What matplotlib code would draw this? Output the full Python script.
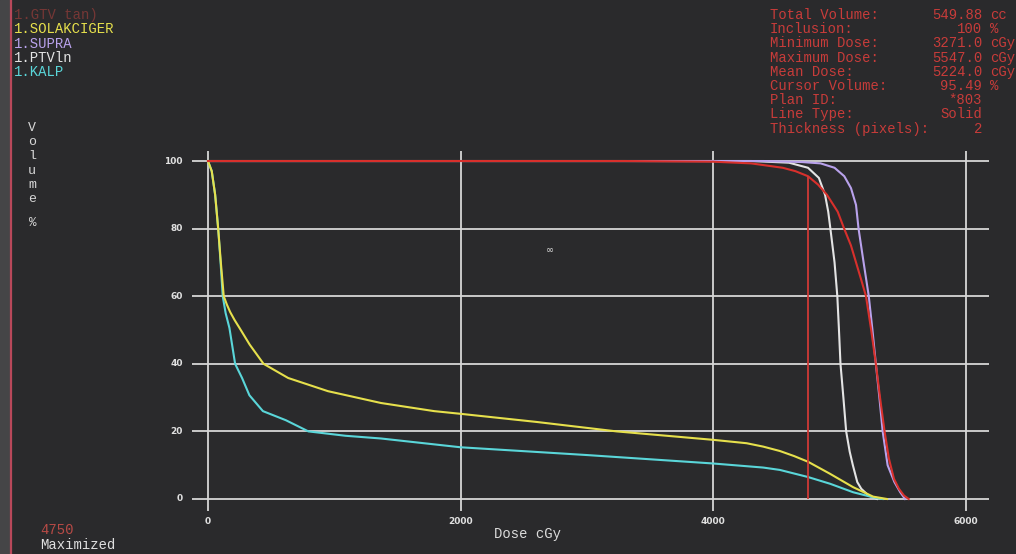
import matplotlib
matplotlib.use('Agg')
import matplotlib.pyplot as plt
from matplotlib.lines import Line2D
from matplotlib.patches import Rectangle

gtv_dose = [0, 3300, 4000, 4300, 4550, 4650, 4750, 4830, 4900, 4985, 5036, 5090, 5130,
            5170, 5209, 5250, 5287, 5320, 5356, 5390, 5430, 5470, 5510, 5547]
gtv_vol = [100, 100, 99.8, 99.3, 98, 97, 95.5, 93, 90, 85, 80, 75, 70,
           65, 60, 50, 40, 30, 20, 12, 6, 3, 1, 0]

supra_dose = [0, 4400, 4700, 4850, 4960, 5037, 5090, 5130, 5150, 5190, 5231, 5260,
              5287, 5315, 5341, 5380, 5434, 5480, 5518]
supra_vol = [100, 100, 99.7, 99.3, 98, 95.5, 92, 87, 80, 70, 60, 50,
             40, 30, 20, 10, 5, 2, 0]

ptv_dose = [0, 4300, 4600, 4750, 4836, 4885, 4910, 4927, 4960, 4982, 4995, 5007,
            5030, 5052, 5080, 5105, 5140, 5172, 5230, 5296]
ptv_vol = [100, 100, 99.5, 98, 95, 90, 85, 80, 70, 60, 50, 40,
           30, 20, 14, 10, 5, 3, 1, 0]

lung_dose = [0, 30, 57, 81, 102, 125, 150, 176, 210, 250, 330, 440, 635, 950, 1370,
             1790, 2000, 2600, 3235, 4000, 4264, 4395, 4527, 4640, 4751, 4922, 5107,
             5265, 5375]
lung_vol = [100, 97, 90, 80, 70, 60, 57.5, 55.3, 53, 50.6, 45.7, 40, 35.8, 31.9, 28.4,
            26, 25.2, 22.8, 20, 17.5, 16.5, 15.5, 14.2, 12.7, 11, 7.5, 3.5,
            0.7, 0]

heart_dose = [0, 30, 57, 81, 100, 117, 140, 170, 215, 270, 328, 435, 617, 795, 1090,
              1370, 2000, 3000, 4000, 4395, 4527, 4750, 4925, 5107, 5265, 5340]
heart_vol = [100, 97, 90, 80, 70, 60, 55, 50.6, 40, 35.8, 30.7, 26, 23.3, 20, 18.7,
             17.9, 15.3, 13, 10.5, 9.3, 8.6, 6.5, 4.5, 2, 0.5, 0]

cursor_dose = 4750
cursor_vol = 95.49

x_ticks = [0, 2000, 4000, 6000]
y_ticks = [0, 20, 40, 60, 80, 100]

legend_names = ['1.GTV tan)', '1.SOLAKCIGER', '1.SUPRA', '1.PTVln', '1.KALP']
legend_colors = ['#a8403c', '#e6e04c', '#b9a2ec', '#e4e4e4', '#5ad6d9']

info_labels = ['Total Volume:', 'Inclusion:', 'Minimum Dose:', 'Maximum Dose:', 'Mean Dose:',
               'Cursor Volume:', 'Plan ID:', 'Line Type:', 'Thickness (pixels):']
info_values = ['549.88', '100', '3271.0', '5547.0', '5224.0', '95.49', '*803', 'Solid', '2']
info_units = ['cc', '%', 'cGy', 'cGy', 'cGy', '%', '', '', '']

W, H = 1016, 554
BG = '#2a2a2c'
GRID = '#d6d6d6'
RED = '#c83c3a'
MONO = ['Liberation Mono', 'DejaVu Sans Mono']


def fx(px):
    return px / W


def fy(py):
    return 1 - py / H


fig = plt.figure(figsize=(W / 100, H / 100), dpi=100, facecolor=BG)

# screen bezel on the left
fig.add_artist(Rectangle((0, 0), fx(10), 1, transform=fig.transFigure,
                         color='#454547', zorder=0))
fig.add_artist(Line2D([fx(11), fx(11)], [0, 1], color='#b8485a', lw=1.6))

ax = fig.add_axes([0.1910, 0.0749, 0.7908, 0.6558])
ax.set_facecolor('none')
ax.set_xlim(-110, 6250)
ax.set_ylim(-4, 103.5)
ax.axis('off')

# grid drawn by hand so the lines run past the data limits
ax.hlines(y_ticks, -130, 6180, color=GRID, lw=1.3, clip_on=False, zorder=1)
ax.vlines(x_ticks, -3.5, 103, color=GRID, lw=1.3, clip_on=False, zorder=1)

for y in y_ticks:
    ax.text(-200, y, str(y), ha='right', va='center', color='#e0e0e0',
            fontsize=6.5, fontweight='bold', clip_on=False)
for x in x_ticks:
    ax.text(x, -6.6, str(x), ha='center', va='center', color='#e0e0e0',
            fontsize=6.5, fontweight='bold', clip_on=False)

# DVH curves
ax.plot(ptv_dose, ptv_vol, color=legend_colors[3], lw=1.5, zorder=3)
ax.plot(supra_dose, supra_vol, color=legend_colors[2], lw=1.5, zorder=4)
ax.plot(heart_dose, heart_vol, color=legend_colors[4], lw=1.5, zorder=4)
ax.plot(lung_dose, lung_vol, color=legend_colors[1], lw=1.5, zorder=5)
ax.plot(gtv_dose, gtv_vol, color='#d8302c', lw=1.5, zorder=6)

# cursor
ax.vlines([cursor_dose], 0, cursor_vol, color='#d03a36', lw=1.3, zorder=6)
ax.text(2707, 73.7, '\u221e', color='#dddddd', fontsize=7, ha='center', va='center')

# axis titles
fig.text(fx(527), fy(534), 'Dose cGy', family=MONO, fontsize=10, color='#dcdcdc',
         ha='center', va='center')
for i, ch in enumerate('Volume'):
    fig.text(fx(32), fy(128 + i * 14.2), ch, family=MONO, fontsize=9.5,
             color='#d8d8d8', ha='center', va='center')
fig.text(fx(33), fy(223), '%', family=MONO, fontsize=9, color='#d8d8d8',
         ha='center', va='center')

# structure list
for i, (name, c) in enumerate(zip(legend_names, legend_colors)):
    fig.text(fx(14), fy(15 + i * 14.3), name, family=MONO, fontsize=10, color=c,
             ha='left', va='center', alpha=0.6 if i == 0 else 1.0)

# statistics box
for i, (lab, val, unit) in enumerate(zip(info_labels, info_values, info_units)):
    yy = fy(15 + i * 14.2)
    fig.text(fx(770), yy, lab, family=MONO, fontsize=10, color=RED, ha='left', va='center')
    fig.text(fx(982), yy, val, family=MONO, fontsize=10, color=RED, ha='right', va='center')
    if unit:
        fig.text(fx(990), yy, unit, family=MONO, fontsize=10, color=RED,
                 ha='left', va='center')

fig.text(fx(40), fy(530), '4750', family=MONO, fontsize=10, color='#b84a46',
         ha='left', va='center')
fig.text(fx(40), fy(545), 'Maximized', family=MONO, fontsize=10, color='#e0e0e0',
         ha='left', va='center')

fig.savefig('out.png', dpi=100, facecolor=BG)
